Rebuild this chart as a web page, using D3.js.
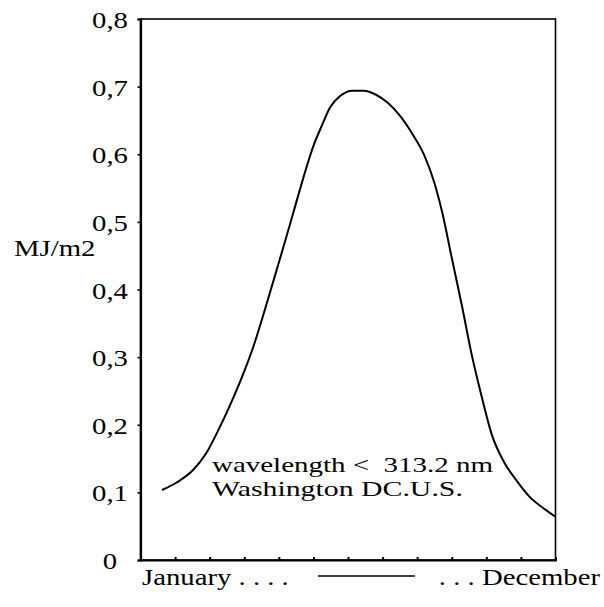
<!DOCTYPE html>
<html>
<head>
<meta charset="utf-8">
<script src="https://cdn.jsdelivr.net/npm/d3@7"></script>
<style>
  html, body { margin: 0; padding: 0; background: #fff; }
  svg { display: block; }
  text { font-family: "Liberation Serif", "Times New Roman", serif; fill: #000; white-space: pre; }
</style>
</head>
<body>
<script>
// Daily UV-B dose over the year (wavelength < 313.2 nm), Washington DC
const monthPos = [0.62, 1.06, 1.52, 1.89, 2.24, 2.59, 2.93, 3.28, 3.66, 4.03, 4.41, 4.76,
                  4.99, 5.25, 5.48, 5.77, 6.12, 6.46, 6.81, 7.15, 7.50, 7.85, 8.20, 8.49,
                  8.72, 9.00, 9.29, 9.58, 9.84, 10.16, 10.51, 10.88, 11.26, 11.64, 12.0];
const doseMJ = [0.1035, 0.115, 0.133, 0.157, 0.191, 0.229, 0.270, 0.318, 0.381, 0.445, 0.512, 0.574,
                0.611, 0.643, 0.669, 0.686, 0.694, 0.694, 0.688, 0.676, 0.657, 0.631, 0.599, 0.559,
                0.515, 0.447, 0.377, 0.303, 0.247, 0.185, 0.145, 0.117, 0.093, 0.077, 0.064];
const yTicks = [0, 0.1, 0.2, 0.3, 0.4, 0.5, 0.6, 0.7, 0.8];
const yTickLabels = ["0", "0,1", "0,2", "0,3", "0,4", "0,5", "0,6", "0,7", "0,8"];
const monthTicks = [0, 1, 2, 3, 4, 5, 6, 7, 8, 9, 10, 11, 12];
const yLabel = "MJ/m2";
const noteLines = ["wavelength <  313.2 nm", "Washington DC.U.S."];
const startLabel = "January . . . .";
const endLabel = ". . . December";

const W = 604, H = 607;
const FS = 23, SX = 1.25;   // type size and horizontal stretch of the lettering

const svg = d3.select("body").append("svg").attr("width", W).attr("height", H);

const x = d3.scaleLinear().domain([0, 12]).range([140.5, 555.5]);
const y = d3.scaleLinear().domain([0, 0.8]).range([560, 19]);

// stretched text helper
function label(px, py, str, anchor, fs, sx) {
  const g = svg.append("g").attr("transform", `translate(${px},${py}) scale(${sx || SX},1)`);
  g.append("text").attr("text-anchor", anchor || "start").attr("font-size", fs || FS)
    .attr("xml:space", "preserve").text(str);
  return g;
}

// frame
svg.append("rect")
  .attr("x", x(0)).attr("y", y(0.8))
  .attr("width", x(12) - x(0)).attr("height", y(0) - y(0.8))
  .attr("fill", "none").attr("stroke", "#000").attr("stroke-width", 1.6);

// left axis
const yAxis = svg.append("g").attr("transform", `translate(${x(0)},0)`)
  .call(d3.axisLeft(y).tickValues(yTicks).tickSize(3).tickFormat(""));
yAxis.select(".domain").attr("stroke-width", 2.2);
yAxis.selectAll(".tick line").attr("stroke-width", 1.6);

// bottom axis ticks (inward)
const xAxis = svg.append("g").attr("transform", `translate(0,${y(0)})`)
  .call(d3.axisBottom(x).tickValues(monthTicks).tickSize(-3).tickFormat(""));
xAxis.select(".domain").attr("stroke-width", 1.8);
xAxis.selectAll(".tick line").attr("stroke-width", 2);

// y tick labels
yTicks.forEach((v, i) => {
  label(110, y(v) + 9, yTickLabels[i], "middle");
});

// y axis title
label(14, 256, yLabel, "start");

// curve
const pts = monthPos.map((m, i) => [m, doseMJ[i]]);
svg.append("path")
  .datum(pts)
  .attr("fill", "none")
  .attr("stroke", "#000")
  .attr("stroke-width", 2)
  .attr("d", d3.line().x(d => x(d[0])).y(d => y(d[1])).curve(d3.curveMonotoneX));

// annotation
label(212, 472, noteLines[0], "start", 21, 1.38);
label(212, 495.5, noteLines[1], "start", 21, 1.42);

// month span legend under the axis
label(142, 585, startLabel, "start");
svg.append("line")
  .attr("x1", 318).attr("x2", 415).attr("y1", 576).attr("y2", 576)
  .attr("stroke", "#000").attr("stroke-width", 1.5);
label(600, 585, endLabel, "end");
</script>
</body>
</html>
